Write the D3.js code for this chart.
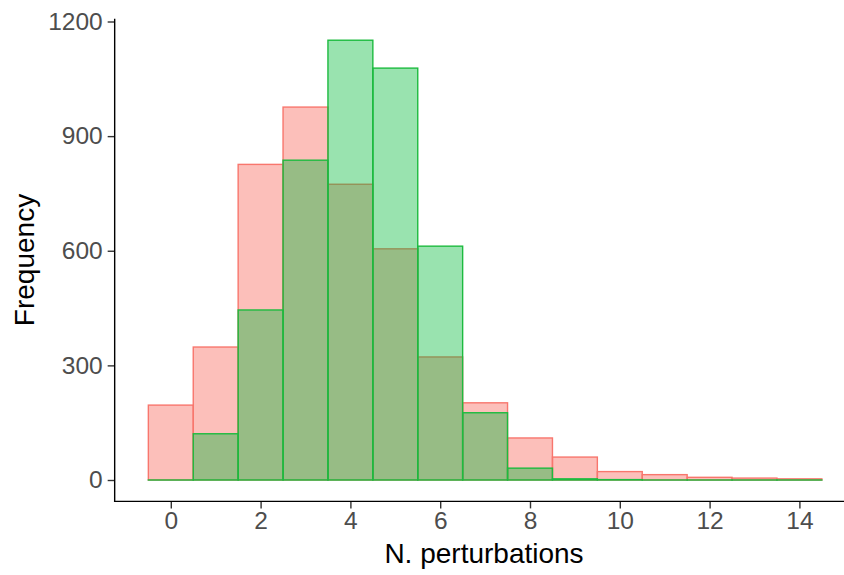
<!DOCTYPE html>
<html><head><meta charset="utf-8">
<script src="https://cdn.jsdelivr.net/npm/d3@7"></script>
<style>body{margin:0;background:#fff}</style>
</head><body>
<svg id="c" width="844" height="575"></svg>
<script>
const bins = [0,1,2,3,4,5,6,7,8,9,10,11,12,13,14];
const redCounts = [196,348,826,976,774,605,322,202,110,60,22,14,7,5,3];
const greenCounts = [0,121,445,837,1151,1078,612,176,31,3,1,0,0,0,0];
const xTicks = [0,2,4,6,8,10,12,14];
const yTicks = [0,300,600,900,1200];

const svg = d3.select("#c");
const x = d3.scaleLinear().domain([0,14]).range([170.8, 799.4]);
const y = d3.scaleLinear().domain([0,1200]).range([480, 21.5]);
const xMin = -1.25, xMax = 15.5, yMin = -56, yMax = 1207.5;

function drawSeries(counts, fill, op, stroke){
  svg.append("g").selectAll("rect").data(bins).join("rect")
    .attr("x", d => x(d-0.5))
    .attr("width", d => x(d+0.5)-x(d-0.5))
    .attr("y", (d,i) => y(counts[i]))
    .attr("height", (d,i) => Math.max(0.01, y(0)-y(counts[i])))
    .attr("fill", fill).attr("fill-opacity", op)
    .attr("stroke", stroke).attr("stroke-width", 1.4);
}
drawSeries(redCounts, "#F8766D", 0.47, "#F8766D");
drawSeries(greenCounts, "#00BA38", 0.4, "#1DBB3F");

const font = "'Liberation Sans', Arial, Helvetica, sans-serif";
// y axis
const ya = svg.append("g").attr("transform", `translate(${x(xMin)},0)`)
  .call(d3.axisLeft(y).tickValues(yTicks).tickFormat(d3.format("d")).tickSize(7).tickPadding(5));
ya.select(".domain").remove();
ya.selectAll(".tick line").attr("stroke","#333").attr("stroke-width",1.4);
ya.selectAll(".tick text").attr("fill","#4D4D4D").style("font-size","24.5px").style("font-family",font);
svg.append("line").attr("x1",x(xMin)).attr("x2",x(xMin)).attr("y1",y(yMax)).attr("y2",y(yMin)+0.7)
  .attr("stroke","#000").attr("stroke-width",1.4);
// x axis
const xa = svg.append("g").attr("transform", `translate(0,${y(yMin)})`)
  .call(d3.axisBottom(x).tickValues(xTicks).tickFormat(d3.format("d")).tickSize(7).tickPadding(3));
xa.select(".domain").remove();
xa.selectAll(".tick line").attr("stroke","#333").attr("stroke-width",1.4);
xa.selectAll(".tick text").attr("fill","#4D4D4D").style("font-size","24.5px").style("font-family",font);
svg.append("line").attr("x1",x(xMin)-0.7).attr("x2",x(xMax)).attr("y1",y(yMin)).attr("y2",y(yMin))
  .attr("stroke","#000").attr("stroke-width",1.4);

// titles
svg.append("text").attr("x", 484).attr("y", 563).attr("text-anchor","middle")
  .style("font-size","28px").style("font-family",font).attr("fill","#000").text("N. perturbations");
svg.append("text").attr("transform", `translate(34,${(y(yMax)+y(yMin))/2}) rotate(-90)`)
  .attr("text-anchor","middle").style("font-size","28px").style("font-family",font).attr("fill","#000").text("Frequency");
</script>
</body></html>
